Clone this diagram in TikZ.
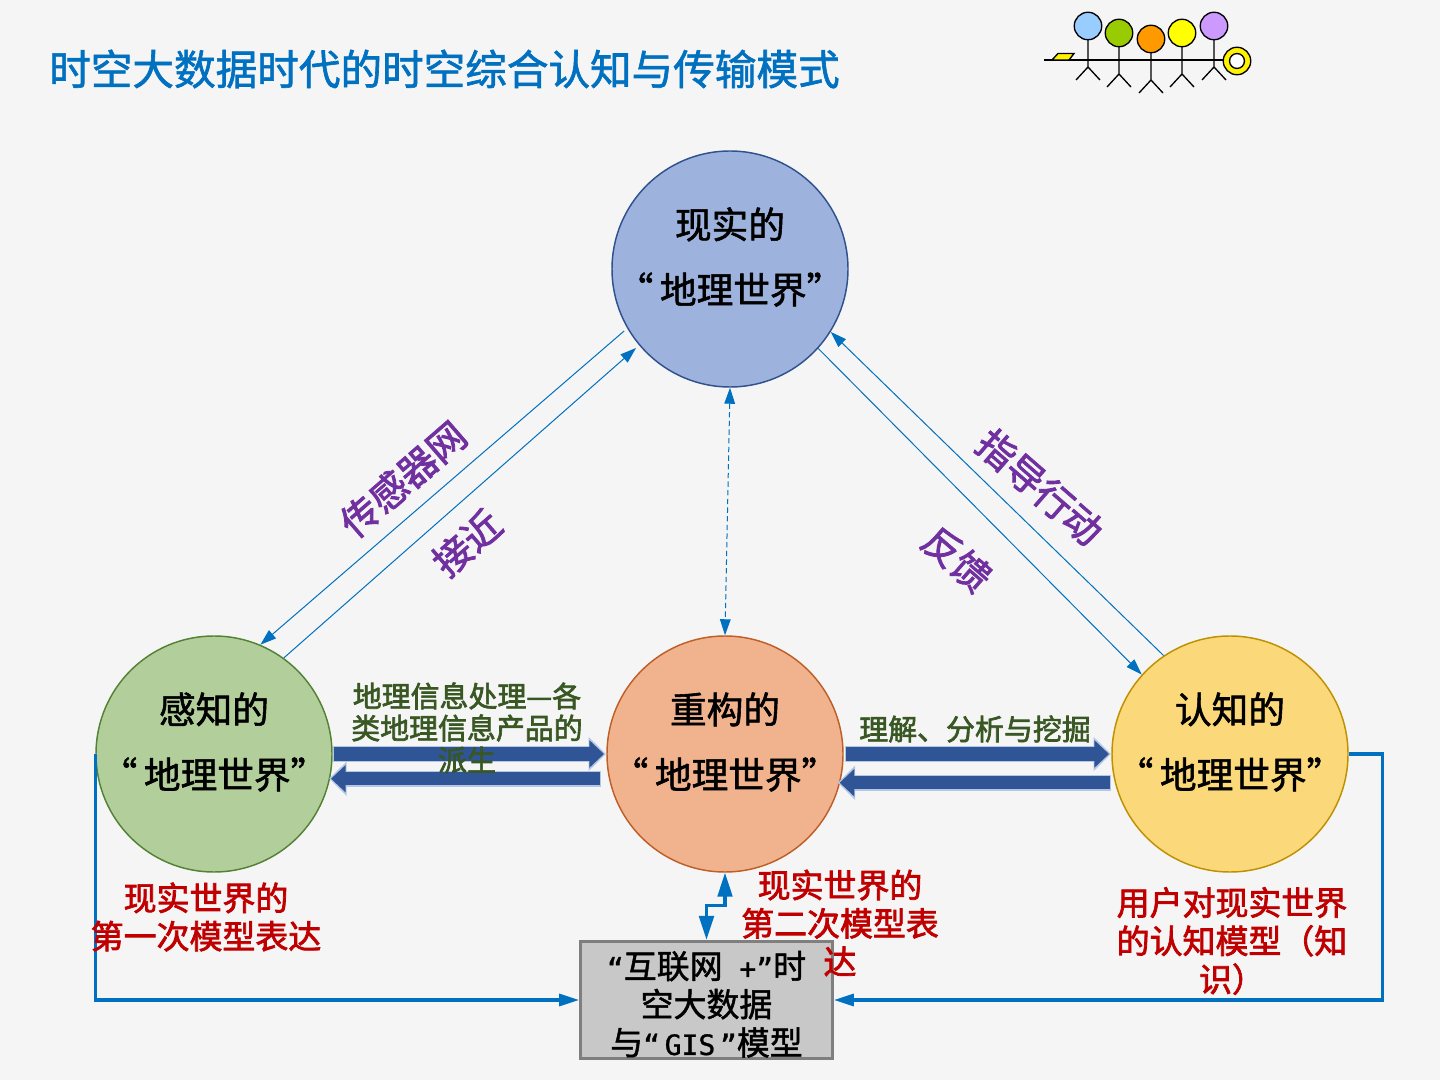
\documentclass[tikz,border=0pt]{standalone}
\usepackage{fontspec}
\setmainfont{Noto Sans CJK SC}
\newfontfamily\mono[FakeBold=1]{DejaVu Sans Mono}
\newfontfamily\cjkm[FakeBold=1.5]{Noto Sans CJK SC}
\newfontfamily\cjkh[FakeBold=2.2]{Noto Sans CJK SC}
\usetikzlibrary{arrows.meta,calc}
\definecolor{bgc}{HTML}{F5F5F5}
\definecolor{blu}{HTML}{0070C0}
\definecolor{ltblue}{HTML}{B4C7E7}
\definecolor{dkblue}{HTML}{2F5597}
\definecolor{purp}{HTML}{7030A0}
\definecolor{grn}{HTML}{385723}
\definecolor{rd}{HTML}{C00000}
\tikzset{
  x=0.75pt,y=-0.75pt,
  ball/.style={circle,minimum size=177pt,inner sep=0pt,line width=1.1pt},
  balllabel/.style={inner sep=0pt,align=center,yshift=9pt,font=\fontsize{27.5}{48.8}\cjkm,text=black},
  thin arrow/.style={draw=blu,line width=0.75pt,-{Triangle[length=12pt,width=8pt]}},
  feedback/.style={draw=blu,line width=2.4pt,-{Triangle[length=15pt,width=9pt]}},
  zig/.style={draw=blu,line width=2.4pt,{Triangle[length=18pt,width=11pt]}-{Triangle[length=18pt,width=11pt]}},
  blockback/.style={draw=ltblue,line width=12pt,-{Triangle[length=13pt,width=25pt]}},
  blockfront/.style={draw=dkblue,line width=10pt,-{Triangle[length=11pt,width=20pt]}},
  purpletxt/.style={text=purp,font=\fontsize{28.5}{32}\cjkh,inner sep=0pt},
  greentxt/.style={text=grn,font=\fontsize{21.7}{24}\cjkh,inner sep=0pt,align=center},
  redtxt/.style={text=rd,font=\fontsize{24.7}{28.7}\cjkh,inner sep=0pt,align=center},
  figure line/.style={draw=black,line width=1pt},
}
\newcommand{\blockarrow}[4]{%
  \draw[blockback,shorten <=#3,shorten >=#4] (#1) -- (#2);
  \draw[blockfront,shorten <=#3+0.8pt,shorten >=#4+1.4pt] (#1) -- (#2);}
\newcommand{\balltext}[1]{#1\\“\hspace{5pt}地理世界”}
\newcommand{\lat}[1]{{\fontsize{21}{28.7}\mono #1}}
\begin{document}
\begin{tikzpicture}
\useasboundingbox (0,0) rectangle (1440,1080);
\fill[bgc] (0,0) rectangle (1440,1080);

\node[anchor=west,inner sep=0pt,text=blu,font=\fontsize{31.2}{36}\cjkm] (title) at (49,69) {时空大数据时代的时空综合认知与传输模式};

% circles
\node[ball,draw={rgb,255:red,47;green,82;blue,143},fill={rgb,255:red,157;green,179;blue,222},label={[balllabel]center:\balltext{现实的}}] (real) at (730,269) {};
\node[ball,draw={rgb,255:red,84;green,130;blue,53},fill={rgb,255:red,178;green,207;blue,155},label={[balllabel]center:\balltext{感知的}}] (sense) at (214,754) {};
\node[ball,draw={rgb,255:red,190;green,95;blue,40},fill={rgb,255:red,241;green,179;blue,142},label={[balllabel]center:\balltext{重构的}}] (recon) at (725,754) {};
\node[ball,draw={rgb,255:red,191;green,144;blue,0},fill={rgb,255:red,251;green,216;blue,122},label={[balllabel]center:\balltext{认知的}}] (cogn) at (1230,754) {};

% model box
\node[draw={rgb,255:red,127;green,127;blue,127},fill={rgb,255:red,200;green,200;blue,200},line width=2.2pt,
  minimum width=189pt,minimum height=88pt,inner sep=0pt,align=center,
  font=\fontsize{24.7}{28.7}\cjkm] (gis) at (706.5,1000)
  {\rule{0pt}{27pt}\lat{“}互联网\lat{ +”}时\\空大数据\\与\lat{“\,GIS\,”}模型};

% thin connectors
\draw[thin arrow,shorten <=3pt] (real.210) -- (sense.67.6);
\draw[thin arrow,shorten >=3pt] (sense.54.7) -- (real.220.6);
\draw[thin arrow] (real.-42.6) -- (cogn.138.7);
\draw[thin arrow] (cogn.124) -- (real.-32.2);
\draw[thin arrow,dash pattern=on 4pt off 2.5pt,{Triangle[length=12pt,width=8pt]}-{Triangle[length=12pt,width=8pt]}] (real.south) -- (recon.north);

% block arrows
\blockarrow{sense.-0.7}{recon.180.7}{0pt}{0.3pt}
\blockarrow{recon.192.7}{sense.-12.7}{6pt}{-0.7pt}
\blockarrow{recon.0}{cogn.180}{1pt}{0.3pt}
\blockarrow{cogn.194}{recon.-14}{2.6pt}{-1.8pt}

% feedback lines
\draw[feedback] (sense.west) -- (sense.west |- gis.west) -- (gis.west);
\draw[feedback] (cogn.east) -- ++(34,0) |- (gis.east);
\draw[zig] (recon.south) -- ++(0,33) -| (gis.north);

% labels
\node[purpletxt,rotate=41] (l1) at (403,479) {传感器网};
\node[purpletxt,rotate=41] (l2) at (467,543) {接近};
\node[purpletxt,rotate=-41] (l3) at (1040,487) {指导行动};
\node[purpletxt,rotate=-41] (l4) at (957,559) {反馈};
\node[greentxt] (g1) at (467,728) {地理信息处理—各\\类地理信息产品的\\派生};
\node[greentxt] (g2) at (975,729) {理解、分析与挖掘};
\node[redtxt] (r1) at (206,917) {现实世界的\\第一次模型表达};
\node[redtxt] (r2) at (840,923) {现实世界的\\第二次模型表\\达};
\node[redtxt] (r3) at (1232,941) {用户对现实世界\\的认知模型（知\\识）};

% team icon
\draw[figure line] (1044,60) -- (1224,60);
\filldraw[figure line,fill=yellow] (1052,60) -- (1058,53.5) -- (1074,53.5) -- (1069,60) -- cycle;
\foreach \px/\py/\col in {1088/26/{rgb,255:red,153;green,204;blue,255},
    1119/33/{rgb,255:red,153;green,204;blue,0},
    1151/39/{rgb,255:red,255;green,153;blue,0},
    1182/33/{rgb,255:red,255;green,255;blue,0},
    1214/26/{rgb,255:red,204;green,153;blue,255}}{
  \draw[figure line] (\px,\py) -- ++(0,41) -- ++(-12,13) (\px,\py+41) -- ++(12,13);
  \filldraw[figure line,fill=\col] (\px,\py) circle[radius=10.3pt];
}
\filldraw[figure line,fill=yellow] (1237,61) circle[radius=10.3pt];
\filldraw[figure line,fill=white] (1237,61) circle[radius=5.6pt];
\end{tikzpicture}
\end{document}
